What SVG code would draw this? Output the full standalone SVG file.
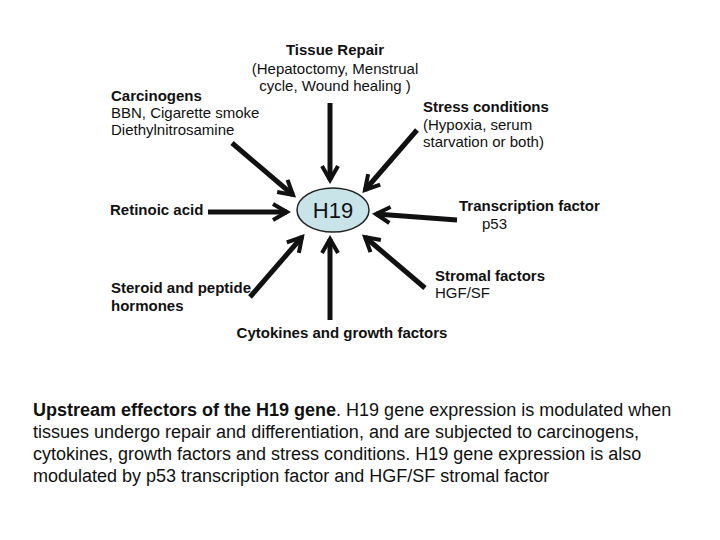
<svg xmlns="http://www.w3.org/2000/svg" width="720" height="540" viewBox="0 0 720 540">
<style>
text{font-family:"Liberation Sans",Arial,sans-serif;fill:#111}
.l{font-size:15px}.b{font-weight:bold}
.c{font-size:18px}
.a{stroke:#111;stroke-width:5;fill:none;marker-end:url(#h)}
</style>
<defs><marker id="h" viewBox="0 0 10 10" refX="8" refY="5" markerWidth="4" markerHeight="4" orient="auto" markerUnits="strokeWidth"><polyline points="1,1 8,5 1,9" fill="none" stroke="#111" stroke-width="2"/></marker></defs>
<rect width="720" height="540" fill="#fff"/>
<g id="connectors">
<line class="a" x1="330" y1="103" x2="330" y2="180"/>
<line class="a" x1="232" y1="143" x2="293" y2="195"/>
<line class="a" x1="417" y1="130" x2="365" y2="190"/>
<line class="a" x1="208" y1="212" x2="287" y2="212"/>
<line class="a" x1="457" y1="220" x2="376" y2="214"/>
<line class="a" x1="425" y1="288" x2="365" y2="237"/>
<line class="a" x1="330" y1="320" x2="330" y2="239"/>
<line class="a" x1="250" y1="297" x2="302" y2="237"/>
</g>
<g id="h19"><ellipse cx="333" cy="210" rx="36" ry="22" fill="#c8e4e8" stroke="#222" stroke-width="1.5"/><text x="333" y="218" font-size="22" text-anchor="middle">H19</text></g>
<g id="tissue" class="l" text-anchor="middle"><text x="335" y="55" class="b">Tissue Repair</text><text x="335" y="74">(Hepatoctomy, Menstrual</text><text x="335" y="91">cycle, Wound healing )</text></g>
<g id="carc" class="l"><text x="111" y="101" class="b">Carcinogens</text><text x="111" y="118">BBN, Cigarette smoke</text><text x="111" y="135">Diethylnitrosamine</text></g>
<g id="stress" class="l"><text x="423" y="112" class="b">Stress conditions</text><text x="423" y="130">(Hypoxia, serum</text><text x="423" y="147">starvation or both)</text></g>
<g id="ret" class="l"><text x="110" y="215" class="b">Retinoic acid</text></g>
<g id="tf" class="l"><text x="459" y="211" class="b">Transcription factor</text><text x="482" y="229">p53</text></g>
<g id="strom" class="l"><text x="435" y="281" class="b">Stromal factors</text><text x="435" y="298">HGF/SF</text></g>
<g id="ster" class="l"><text x="111" y="293" class="b">Steroid and peptide</text><text x="111" y="311" class="b">hormones</text></g>
<g id="cyto" class="l"><text x="342" y="338" class="b" text-anchor="middle">Cytokines and growth factors</text></g>
<g id="caption" class="c"><text x="33" y="416"><tspan font-weight="bold">Upstream effectors of the H19 gene</tspan>. H19 gene expression is modulated when</text><text x="33" y="438">tissues undergo repair and differentiation, and are subjected to carcinogens,</text><text x="33" y="460">cytokines, growth factors and stress conditions. H19 gene expression is also</text><text x="33" y="482">modulated by p53 transcription factor and HGF/SF stromal factor</text></g>
</svg>
